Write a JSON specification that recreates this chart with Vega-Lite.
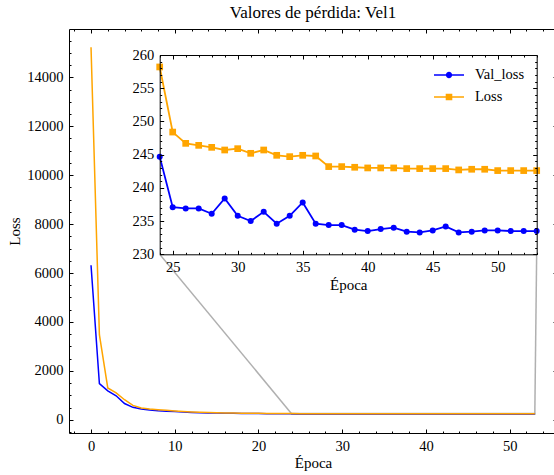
{
  "$schema": "https://vega.github.io/schema/vega-lite/v6.json",
  "autosize": {"type": "none"},
  "padding": {"left": 69, "top": 29, "right": -3, "bottom": 42},
  "width": 488,
  "height": 404,
  "background": "white",
  "title": {"text": "Valores de pérdida: Vel1", "font": "'Liberation Serif', 'Times New Roman', serif", "fontSize": 17, "fontWeight": "normal", "color": "#000", "anchor": "middle", "offset": 7},
  "config": {
    "view": {"stroke": null},
    "axis": {"grid": false, "domainColor": "#000", "domainWidth": 1, "tickColor": "#000", "tickWidth": 1, "labelFont": "'Liberation Serif', 'Times New Roman', serif", "labelFontSize": 14.5, "labelColor": "#000", "titleFont": "'Liberation Serif', 'Times New Roman', serif", "titleFontSize": 15, "titleFontWeight": "normal", "titleColor": "#000", "labelPadding": 10}
  },
  "datasets": {
    "hist": [
      {"epoch": 0, "series": "Val_loss", "loss": 6320}, {"epoch": 1, "series": "Val_loss", "loss": 1480}, {"epoch": 2, "series": "Val_loss", "loss": 1180}, {"epoch": 3, "series": "Val_loss", "loss": 980}, {"epoch": 4, "series": "Val_loss", "loss": 665}, {"epoch": 5, "series": "Val_loss", "loss": 510}, {"epoch": 6, "series": "Val_loss", "loss": 440}, {"epoch": 7, "series": "Val_loss", "loss": 400}, {"epoch": 8, "series": "Val_loss", "loss": 370}, {"epoch": 9, "series": "Val_loss", "loss": 350}, {"epoch": 10, "series": "Val_loss", "loss": 335}, {"epoch": 11, "series": "Val_loss", "loss": 315}, {"epoch": 12, "series": "Val_loss", "loss": 300}, {"epoch": 13, "series": "Val_loss", "loss": 290}, {"epoch": 14, "series": "Val_loss", "loss": 282}, {"epoch": 15, "series": "Val_loss", "loss": 276}, {"epoch": 16, "series": "Val_loss", "loss": 270}, {"epoch": 17, "series": "Val_loss", "loss": 266}, {"epoch": 18, "series": "Val_loss", "loss": 262}, {"epoch": 19, "series": "Val_loss", "loss": 258}, {"epoch": 20, "series": "Val_loss", "loss": 255}, {"epoch": 21, "series": "Val_loss", "loss": 252}, {"epoch": 22, "series": "Val_loss", "loss": 249}, {"epoch": 23, "series": "Val_loss", "loss": 247},
      {"epoch": 24, "series": "Val_loss", "loss": 244.7}, {"epoch": 25, "series": "Val_loss", "loss": 237.1}, {"epoch": 26, "series": "Val_loss", "loss": 236.9}, {"epoch": 27, "series": "Val_loss", "loss": 236.9}, {"epoch": 28, "series": "Val_loss", "loss": 236.1}, {"epoch": 29, "series": "Val_loss", "loss": 238.4}, {"epoch": 30, "series": "Val_loss", "loss": 235.8}, {"epoch": 31, "series": "Val_loss", "loss": 235.0}, {"epoch": 32, "series": "Val_loss", "loss": 236.4}, {"epoch": 33, "series": "Val_loss", "loss": 234.6}, {"epoch": 34, "series": "Val_loss", "loss": 235.8}, {"epoch": 35, "series": "Val_loss", "loss": 237.8}, {"epoch": 36, "series": "Val_loss", "loss": 234.6}, {"epoch": 37, "series": "Val_loss", "loss": 234.4}, {"epoch": 38, "series": "Val_loss", "loss": 234.4}, {"epoch": 39, "series": "Val_loss", "loss": 233.7}, {"epoch": 40, "series": "Val_loss", "loss": 233.5}, {"epoch": 41, "series": "Val_loss", "loss": 233.8}, {"epoch": 42, "series": "Val_loss", "loss": 234.0}, {"epoch": 43, "series": "Val_loss", "loss": 233.4}, {"epoch": 44, "series": "Val_loss", "loss": 233.3}, {"epoch": 45, "series": "Val_loss", "loss": 233.6}, {"epoch": 46, "series": "Val_loss", "loss": 234.2}, {"epoch": 47, "series": "Val_loss", "loss": 233.3}, {"epoch": 48, "series": "Val_loss", "loss": 233.4}, {"epoch": 49, "series": "Val_loss", "loss": 233.6}, {"epoch": 50, "series": "Val_loss", "loss": 233.6}, {"epoch": 51, "series": "Val_loss", "loss": 233.5}, {"epoch": 52, "series": "Val_loss", "loss": 233.5}, {"epoch": 53, "series": "Val_loss", "loss": 233.5},
      {"epoch": 0, "series": "Loss", "loss": 15230}, {"epoch": 1, "series": "Loss", "loss": 3480}, {"epoch": 2, "series": "Loss", "loss": 1300}, {"epoch": 3, "series": "Loss", "loss": 1100}, {"epoch": 4, "series": "Loss", "loss": 820}, {"epoch": 5, "series": "Loss", "loss": 590}, {"epoch": 6, "series": "Loss", "loss": 480}, {"epoch": 7, "series": "Loss", "loss": 440}, {"epoch": 8, "series": "Loss", "loss": 410}, {"epoch": 9, "series": "Loss", "loss": 385}, {"epoch": 10, "series": "Loss", "loss": 360}, {"epoch": 11, "series": "Loss", "loss": 340}, {"epoch": 12, "series": "Loss", "loss": 322}, {"epoch": 13, "series": "Loss", "loss": 308}, {"epoch": 14, "series": "Loss", "loss": 297}, {"epoch": 15, "series": "Loss", "loss": 288}, {"epoch": 16, "series": "Loss", "loss": 281}, {"epoch": 17, "series": "Loss", "loss": 275}, {"epoch": 18, "series": "Loss", "loss": 270}, {"epoch": 19, "series": "Loss", "loss": 267}, {"epoch": 20, "series": "Loss", "loss": 264}, {"epoch": 21, "series": "Loss", "loss": 262}, {"epoch": 22, "series": "Loss", "loss": 260}, {"epoch": 23, "series": "Loss", "loss": 259},
      {"epoch": 24, "series": "Loss", "loss": 258.2}, {"epoch": 25, "series": "Loss", "loss": 248.4}, {"epoch": 26, "series": "Loss", "loss": 246.7}, {"epoch": 27, "series": "Loss", "loss": 246.4}, {"epoch": 28, "series": "Loss", "loss": 246.1}, {"epoch": 29, "series": "Loss", "loss": 245.7}, {"epoch": 30, "series": "Loss", "loss": 245.9}, {"epoch": 31, "series": "Loss", "loss": 245.2}, {"epoch": 32, "series": "Loss", "loss": 245.7}, {"epoch": 33, "series": "Loss", "loss": 244.9}, {"epoch": 34, "series": "Loss", "loss": 244.7}, {"epoch": 35, "series": "Loss", "loss": 244.9}, {"epoch": 36, "series": "Loss", "loss": 244.8}, {"epoch": 37, "series": "Loss", "loss": 243.2}, {"epoch": 38, "series": "Loss", "loss": 243.2}, {"epoch": 39, "series": "Loss", "loss": 243.1}, {"epoch": 40, "series": "Loss", "loss": 243.0}, {"epoch": 41, "series": "Loss", "loss": 243.0}, {"epoch": 42, "series": "Loss", "loss": 243.0}, {"epoch": 43, "series": "Loss", "loss": 242.9}, {"epoch": 44, "series": "Loss", "loss": 242.9}, {"epoch": 45, "series": "Loss", "loss": 242.9}, {"epoch": 46, "series": "Loss", "loss": 242.9}, {"epoch": 47, "series": "Loss", "loss": 242.7}, {"epoch": 48, "series": "Loss", "loss": 242.8}, {"epoch": 49, "series": "Loss", "loss": 242.8}, {"epoch": 50, "series": "Loss", "loss": 242.6}, {"epoch": 51, "series": "Loss", "loss": 242.6}, {"epoch": 52, "series": "Loss", "loss": 242.6}, {"epoch": 53, "series": "Loss", "loss": 242.6}
    ],
    "zoombox": [{"x1": 24, "x2": 53, "y1": 230, "y2": 260}],
    "connectors": [
      {"epoch_from": 24, "loss_from": 230, "epoch_to": 8.2, "loss_to": 6765},
      {"epoch_from": 53, "loss_from": 230, "epoch_to": 53.22, "loss_to": 6765}
    ]
  },
  "layer": [
    {
      "layer": [
        {
          "data": {"name": "zoombox"},
          "mark": {"type": "rect", "fill": "transparent", "stroke": "#b0b0b0", "strokeWidth": 1.5},
          "encoding": {
            "x": {"field": "x1", "type": "quantitative", "axis": null},
            "x2": {"field": "x2"},
            "y": {"field": "y1", "type": "quantitative", "axis": null},
            "y2": {"field": "y2"}
          }
        },
        {
          "data": {"name": "connectors"},
          "mark": {"type": "rule", "stroke": "#b0b0b0", "strokeWidth": 1.5},
          "encoding": {
            "x": {"field": "epoch_from", "type": "quantitative", "axis": null},
            "x2": {"field": "epoch_to"},
            "y": {"field": "loss_from", "type": "quantitative", "axis": null},
            "y2": {"field": "loss_to"}
          }
        },
        {
          "data": {"name": "hist"},
          "transform": [{"filter": "datum.series === 'Val_loss'"}],
          "mark": {"type": "line", "strokeWidth": 1.5},
          "encoding": {
            "x": {"field": "epoch", "type": "quantitative", "scale": {"domain": [-2.63, 55.65], "nice": false, "zero": false},
                  "axis": {"orient": "bottom", "values": [0, 10, 20, 30, 40, 50], "tickSize": -4, "title": "Época", "titlePadding": 3, "format": "d"}},
            "y": {"field": "loss", "type": "quantitative", "scale": {"domain": [-540, 15975], "nice": false, "zero": false},
                  "axis": {"orient": "left", "values": [0, 2000, 4000, 6000, 8000, 10000, 12000, 14000], "tickSize": -4, "title": "Loss", "titlePadding": 4, "format": "d"}},
            "color": {"field": "series", "type": "nominal", "scale": {"domain": ["Val_loss", "Loss"], "range": ["#0000ff", "#ffa500"]},
              "legend": {
                "orient": "none", "legendX": 365, "legendY": 31, "title": null,
                "labelFont": "'Liberation Serif', 'Times New Roman', serif", "labelFontSize": 14.5, "labelColor": "#000",
                "symbolSize": 900, "symbolOpacity": 1, "symbolStrokeWidth": 0, "labelOffset": 11, "rowPadding": -3
              }},
            "order": {"field": "epoch", "type": "quantitative"}
          }
        },
        {
          "data": {"name": "hist"},
          "transform": [{"filter": "datum.series === 'Loss'"}],
          "mark": {"type": "line", "strokeWidth": 1.5},
          "encoding": {
            "x": {"field": "epoch", "type": "quantitative", "axis": null},
            "y": {"field": "loss", "type": "quantitative", "axis": null},
            "color": {"field": "series", "type": "nominal"},
            "order": {"field": "epoch", "type": "quantitative"}
          }
        },
        {
          "data": {"name": "hist"},
          "mark": {"type": "point", "opacity": 0},
          "encoding": {"x": {"field": "epoch", "type": "quantitative", "axis": {"orient": "bottom", "values": [-2, 0, 2, 4, 6, 8, 10, 12, 14, 16, 18, 20, 22, 24, 26, 28, 30, 32, 34, 36, 38, 40, 42, 44, 46, 48, 50, 52, 54], "labels": false, "domain": false, "tickSize": -2, "title": null}}}
        },
        {
          "data": {"name": "hist"},
          "mark": {"type": "point", "opacity": 0},
          "encoding": {"x": {"field": "epoch", "type": "quantitative", "axis": {"orient": "top", "values": [0, 10, 20, 30, 40, 50], "labels": false, "domain": true, "tickSize": -4, "title": null}}}
        },
        {
          "data": {"name": "hist"},
          "mark": {"type": "point", "opacity": 0},
          "encoding": {"x": {"field": "epoch", "type": "quantitative", "axis": {"orient": "top", "values": [-2, 0, 2, 4, 6, 8, 10, 12, 14, 16, 18, 20, 22, 24, 26, 28, 30, 32, 34, 36, 38, 40, 42, 44, 46, 48, 50, 52, 54], "labels": false, "domain": false, "tickSize": -2, "title": null}}}
        },
        {
          "data": {"name": "hist"},
          "mark": {"type": "point", "opacity": 0},
          "encoding": {"y": {"field": "loss", "type": "quantitative", "axis": {"orient": "left", "values": [-500, 0, 500, 1000, 1500, 2000, 2500, 3000, 3500, 4000, 4500, 5000, 5500, 6000, 6500, 7000, 7500, 8000, 8500, 9000, 9500, 10000, 10500, 11000, 11500, 12000, 12500, 13000, 13500, 14000, 14500, 15000, 15500], "labels": false, "domain": false, "tickSize": -2, "title": null}}}
        },
        {
          "data": {"name": "hist"},
          "mark": {"type": "point", "opacity": 0},
          "encoding": {"y": {"field": "loss", "type": "quantitative", "axis": {"orient": "right", "values": [0, 2000, 4000, 6000, 8000, 10000, 12000, 14000], "labels": false, "domain": true, "tickSize": -4, "title": null}}}
        },
        {
          "data": {"name": "hist"},
          "mark": {"type": "point", "opacity": 0},
          "encoding": {"y": {"field": "loss", "type": "quantitative", "axis": {"orient": "right", "values": [-500, 0, 500, 1000, 1500, 2000, 2500, 3000, 3500, 4000, 4500, 5000, 5500, 6000, 6500, 7000, 7500, 8000, 8500, 9000, 9500, 10000, 10500, 11000, 11500, 12000, 12500, 13000, 13500, 14000, 14500, 15000, 15500], "labels": false, "domain": false, "tickSize": -2, "title": null}}}
        }
      ],
      "resolve": {"axis": {"x": "independent", "y": "independent"}}
    },
    {
      "data": {"name": "hist"},
      "transform": [{"filter": "datum.epoch >= 24"}],
      "layer": [
        {
          "mark": {"type": "rect", "fill": "white", "stroke": null},
          "encoding": {
            "x": {"datum": 24, "type": "quantitative", "scale": {"domain": [24, 53], "range": [90.7, 467.7], "nice": false, "zero": false}, "axis": null},
            "x2": {"datum": 53},
            "y": {"datum": 230, "type": "quantitative", "scale": {"domain": [230, 260], "range": [225.3, 26], "nice": false, "zero": false}, "axis": null},
            "y2": {"datum": 260}
          }
        },
        {
          "transform": [{"filter": "datum.series === 'Val_loss'"}],
          "mark": {"type": "line", "strokeWidth": 1.8},
          "encoding": {
            "x": {"field": "epoch", "type": "quantitative", "axis": {"orient": "bottom", "offset": -178.7, "zindex": 1, "values": [25, 30, 35, 40, 45, 50], "tickSize": -4, "title": "Época", "titlePadding": 4, "format": "d"}},
            "y": {"field": "loss", "type": "quantitative", "axis": {"orient": "left", "offset": -90.7, "zindex": 1, "values": [230, 235, 240, 245, 250, 255, 260], "tickSize": -4, "title": null, "format": "d"}},
            "color": {"field": "series", "type": "nominal"},
            "order": {"field": "epoch", "type": "quantitative"}
          }
        },
        {
          "transform": [{"filter": "datum.series === 'Loss'"}],
          "mark": {"type": "line", "strokeWidth": 1.8},
          "encoding": {
            "x": {"field": "epoch", "type": "quantitative", "axis": null},
            "y": {"field": "loss", "type": "quantitative", "axis": null},
            "color": {"field": "series", "type": "nominal"},
            "order": {"field": "epoch", "type": "quantitative"}
          }
        },
        {
          "transform": [{"filter": "datum.series === 'Val_loss'"}],
          "mark": {"type": "point", "filled": true, "opacity": 1, "shape": "circle", "size": 36, "color": "#0000ff"},
          "encoding": {
            "x": {"field": "epoch", "type": "quantitative", "axis": null},
            "y": {"field": "loss", "type": "quantitative", "axis": null}
          }
        },
        {
          "transform": [{"filter": "datum.series === 'Loss'"}],
          "mark": {"type": "point", "filled": true, "opacity": 1, "shape": "square", "size": 45, "color": "#ffa500"},
          "encoding": {
            "x": {"field": "epoch", "type": "quantitative", "axis": null},
            "y": {"field": "loss", "type": "quantitative", "axis": null}
          }
        },
        {
          "mark": {"type": "point", "filled": true, "opacity": 0, "size": 900},
          "encoding": {
            "x": {"field": "epoch", "type": "quantitative", "axis": null},
            "y": {"field": "loss", "type": "quantitative", "axis": null},
            "color": {"field": "series", "type": "nominal"},
            "shape": {"field": "series", "type": "nominal", "scale": {"domain": ["Val_loss", "Loss"], "range": ["M-1,-0.05H1V0.05H-1ZM0.21,0A0.21,0.21,0,1,1,-0.21,0A0.21,0.21,0,1,1,0.21,0Z", "M-1,-0.05H1V0.05H-1ZM-0.22,-0.22H0.22V0.22H-0.22Z"]}, "legend": null}
          }
        },
        {
          "mark": {"type": "point", "opacity": 0},
          "encoding": {"x": {"field": "epoch", "type": "quantitative", "axis": {"orient": "bottom", "offset": -178.7, "zindex": 1, "values": [24, 25, 26, 27, 28, 29, 30, 31, 32, 33, 34, 35, 36, 37, 38, 39, 40, 41, 42, 43, 44, 45, 46, 47, 48, 49, 50, 51, 52, 53], "labels": false, "domain": false, "tickSize": -2, "title": null}}}
        },
        {
          "mark": {"type": "point", "opacity": 0},
          "encoding": {"x": {"field": "epoch", "type": "quantitative", "axis": {"orient": "top", "offset": -26, "zindex": 1, "values": [25, 30, 35, 40, 45, 50], "labels": false, "domain": true, "tickSize": -4, "title": null}}}
        },
        {
          "mark": {"type": "point", "opacity": 0},
          "encoding": {"x": {"field": "epoch", "type": "quantitative", "axis": {"orient": "top", "offset": -26, "zindex": 1, "values": [24, 25, 26, 27, 28, 29, 30, 31, 32, 33, 34, 35, 36, 37, 38, 39, 40, 41, 42, 43, 44, 45, 46, 47, 48, 49, 50, 51, 52, 53], "labels": false, "domain": false, "tickSize": -2, "title": null}}}
        },
        {
          "mark": {"type": "point", "opacity": 0},
          "encoding": {"y": {"field": "loss", "type": "quantitative", "axis": {"orient": "left", "offset": -90.7, "zindex": 1, "values": [230, 231, 232, 233, 234, 235, 236, 237, 238, 239, 240, 241, 242, 243, 244, 245, 246, 247, 248, 249, 250, 251, 252, 253, 254, 255, 256, 257, 258, 259, 260], "labels": false, "domain": false, "tickSize": -2, "title": null}}}
        },
        {
          "mark": {"type": "point", "opacity": 0},
          "encoding": {"y": {"field": "loss", "type": "quantitative", "axis": {"orient": "right", "offset": -20.3, "zindex": 1, "values": [230, 235, 240, 245, 250, 255, 260], "labels": false, "domain": true, "tickSize": -4, "title": null}}}
        },
        {
          "mark": {"type": "point", "opacity": 0},
          "encoding": {"y": {"field": "loss", "type": "quantitative", "axis": {"orient": "right", "offset": -20.3, "zindex": 1, "values": [230, 231, 232, 233, 234, 235, 236, 237, 238, 239, 240, 241, 242, 243, 244, 245, 246, 247, 248, 249, 250, 251, 252, 253, 254, 255, 256, 257, 258, 259, 260], "labels": false, "domain": false, "tickSize": -2, "title": null}}}
        }
      ],
      "resolve": {"axis": {"x": "independent", "y": "independent"}}
    }
  ],
  "resolve": {"scale": {"x": "independent", "y": "independent"}, "axis": {"x": "independent", "y": "independent"}}
}
